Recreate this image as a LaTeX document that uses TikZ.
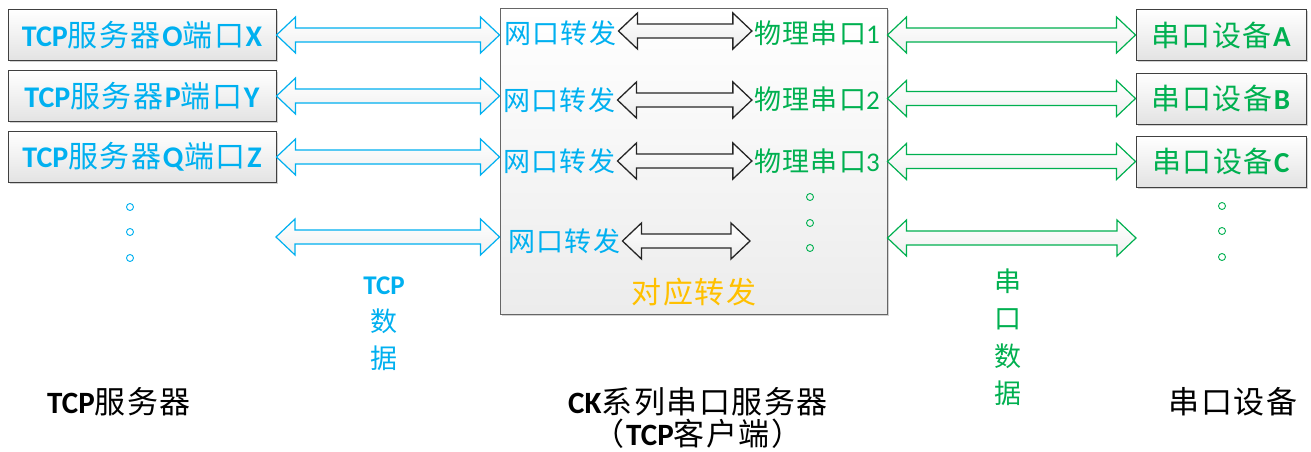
\documentclass[tikz,border=0pt]{standalone}
\usepackage{fontspec}
\setmainfont{Carlito}
\newfontfamily\zhfont[LetterSpace=5]{Noto Sans CJK SC}
\usetikzlibrary{calc,shadows}
\definecolor{tblue}{HTML}{00B0F0}
\definecolor{tgreen}{HTML}{00B050}
\definecolor{torange}{HTML}{FFC000}
\definecolor{bord}{HTML}{404040}
\newcommand\zh[1]{{\zhfont #1}}
% double arrow between two points (y taken from the first)
\newcommand\dblarr[3]{%
  \path[#3] let \p1=(#1), \p2=(#2) in
    ({\x1},{\y1}) -- ({\x1+19pt},{\y1+18pt}) -- ({\x1+19pt},{\y1+7pt}) --
    ({\x2-19pt},{\y1+7pt}) -- ({\x2-19pt},{\y1+18pt}) -- ({\x2},{\y1}) --
    ({\x2-19pt},{\y1-18pt}) -- ({\x2-19pt},{\y1-7pt}) --
    ({\x1+19pt},{\y1-7pt}) -- ({\x1+19pt},{\y1-18pt}) -- cycle;}
\tikzset{
  box/.style={draw=bord, line width=1pt, top color=white, bottom color=gray!22,
    minimum width=268, minimum height=51, inner sep=0,
    font=\fontsize{30}{34}\selectfont,
    drop shadow={opacity=0.35, shadow xshift=1.5pt, shadow yshift=-1.5pt}},
  dbox/.style={box, minimum width=170, font=\fontsize{29}{34}\selectfont},
  cbox/.style={draw=bord!80, line width=1pt, top color=white, bottom color=gray!15,
    minimum width=387, minimum height=305, inner sep=0,
    drop shadow={opacity=0.35, shadow xshift=1.5pt, shadow yshift=-1.5pt}},
  wl/.style={text=tblue, inner sep=2pt, font=\fontsize{27}{32}\selectfont},
  pl/.style={text=tgreen, inner sep=2pt, font=\fontsize{27}{32}\selectfont},
  barr/.style={draw=tblue, line width=1.2pt, line join=miter, top color=white, bottom color=gray!12},
  garr/.style={draw=tgreen, line width=1.2pt, line join=miter, top color=white, bottom color=gray!12},
  karr/.style={draw=black!85, line width=1.3pt, line join=miter, top color=white, bottom color=gray!15},
  bdot/.style={draw=tblue, line width=0.9pt, circle, minimum size=7, inner sep=0},
  gdot/.style={draw=tgreen, line width=0.9pt, circle, minimum size=7, inner sep=0},
  blab/.style={font=\fontsize{31}{36}\selectfont, text=black, inner sep=0},
}
\begin{document}
\begin{tikzpicture}[x=1pt,y=-1pt]
\useasboundingbox[fill=white] (0,0) rectangle (1311,452);

% left TCP server boxes
\node[box, text=tblue] (s1) at (142,35) {\textbf{TCP}\zh{服务器}\textbf{O}\zh{端口}\textbf{X}};
\node[box, text=tblue] (s2) at (142,96) {\textbf{TCP}\zh{服务器}\textbf{P}\zh{端口}\textbf{Y}};
\node[box, text=tblue] (s3) at (142,157) {\textbf{TCP}\zh{服务器}\textbf{Q}\zh{端口}\textbf{Z}};

% central box
\node[cbox] (ck) at (693.5,161.5) {};

% right device boxes
\node[dbox, text=tgreen] (d1) at (1221,35) {\zh{串口设备}\textbf{A}};
\node[dbox, text=tgreen] (d2) at (1221,98.5) {\zh{串口设备}\textbf{B}};
\node[dbox, text=tgreen] (d3) at (1221,161.5) {\zh{串口设备}\textbf{C}};

% inner labels
\node[wl, anchor=west] (w1) at (502,33) {\zh{网口转发}};
\node[wl, anchor=west] (w2) at (501,100) {\zh{网口转发}};
\node[wl, anchor=west] (w3) at (501,161) {\zh{网口转发}};
\node[wl, anchor=west] (w4) at (506,241) {\zh{网口转发}};
\node[pl, anchor=east] (p1) at (882,33) {\zh{物理串口}1};
\node[pl, anchor=east] (p2) at (882,99) {\zh{物理串口}2};
\node[pl, anchor=east] (p3) at (882,161) {\zh{物理串口}3};
\coordinate (p4) at (750,242);
\node[text=torange, inner sep=0, font=\fontsize{30}{34}\selectfont] (dy) at (694,292) {\zh{对应转发}};

% free ends of the fourth row
\coordinate (l4) at (276,237);
\coordinate (r4) at (1136,238);

% blue arrows
\dblarr{s1.east}{s1.east -| ck.west}{barr}
\dblarr{s2.east}{s2.east -| ck.west}{barr}
\dblarr{s3.east}{s3.east -| ck.west}{barr}
\dblarr{l4}{l4 -| ck.west}{barr}

% black arrows
\dblarr{$(w1.east)+(0,-2)$}{p1.west}{karr}
\dblarr{w2.east}{p2.west}{karr}
\dblarr{w3.east}{p3.west}{karr}
\dblarr{w4.east}{p4}{karr}

% green arrows
\dblarr{d1.west -| ck.east}{d1.west}{garr}
\dblarr{d2.west -| ck.east}{d2.west}{garr}
\dblarr{d3.west -| ck.east}{d3.west}{garr}
\dblarr{r4 -| ck.east}{r4}{garr}

% dots
\node[bdot] (bd1) at (130,207) {};
\node[bdot] (bd2) at (130,232) {};
\node[bdot] (bd3) at (130,258) {};
\node[gdot] (cd1) at (810,197) {};
\node[gdot] (cd2) at (810,223) {};
\node[gdot] (cd3) at (810,248) {};
\node[gdot] (rd1) at (1222,206) {};
\node[gdot] (rd2) at (1222,231) {};
\node[gdot] (rd3) at (1222,257) {};

% vertical labels
\node[text=tblue, align=center, inner sep=0, font=\fontsize{27}{37}\selectfont] (tcpd) at (384,324)
  {\textbf{TCP}\\\zh{数}\\\zh{据}};
\node[text=tgreen, align=center, inner sep=0, font=\fontsize{27}{37.5}\selectfont] (serd) at (1008,337)
  {\zh{串}\\\zh{口}\\\zh{数}\\\zh{据}};

% bottom labels
\node[blab] (lt) at (119,402) {\textbf{TCP}\zh{服务器}};
\node[blab] (lc) at (698,402) {\textbf{CK}\zh{系列串口服务器}};
\node[blab] (lc2) at (698,434) {\zh{（}\textbf{TCP}\zh{客户端）}};
\node[blab] (lr) at (1233,402) {\zh{串口设备}};
\end{tikzpicture}
\end{document}
